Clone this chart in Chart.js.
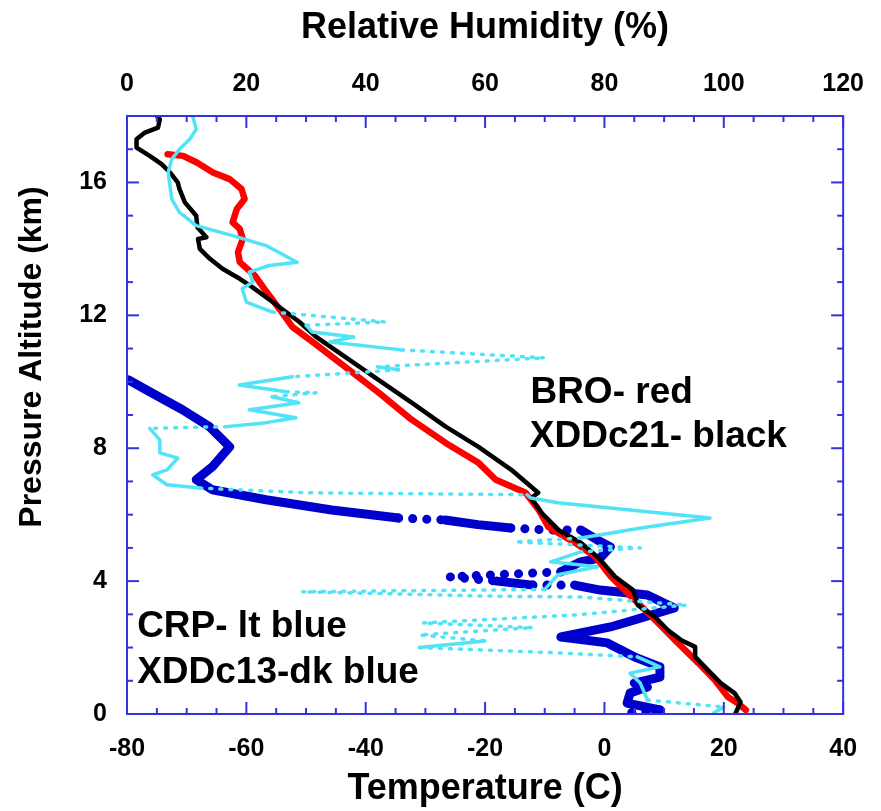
<!DOCTYPE html>
<html>
<head>
<meta charset="utf-8">
<script src="https://cdn.jsdelivr.net/npm/chart.js@4.4.1/dist/chart.umd.min.js"></script>
<style>
  html, body { margin: 0; padding: 0; background: #fff; }
  canvas { display: block; }
</style>
</head>
<body>
<canvas id="chart" width="881" height="811"></canvas>
<script>
const FONT = "'Liberation Sans', Arial, sans-serif";
const FRAME = "#3434dc";

// BRO sonde, temperature (red)
const broAlt = [16.85, 16.8, 16.6, 16.3, 16.1, 15.8, 15.5, 15.2, 14.8, 14.6, 14.3, 13.9, 13.6, 13.2, 12.7, 12.2, 11.65, 11.2, 9.67, 8.86, 8.16, 7.56, 7.05, 6.66, 6.14, 5.63, 5.15, 4.73, 4.13, 3.43, 2.83, 2.23, 1.54, 1.02, 0.51, 0.33, 0.12];
const broTemp = [-73.2, -70.6, -68.3, -65.6, -62.8, -60.8, -60.3, -61.6, -62.3, -61.1, -60.6, -61.4, -61.1, -58.6, -56.6, -54.5, -52.3, -48.9, -37.8, -32.3, -26.6, -21.1, -18.2, -13.2, -11.0, -9.4, -4.9, -1.5, 1.1, 5.1, 8.5, 11.8, 15.7, 18.5, 20.7, 22.3, 23.7];

// XDDc21, temperature (black)
const xdd21Alt = [18.0, 17.9, 17.65, 17.5, 17.3, 17.05, 16.8, 16.55, 16.3, 16.0, 15.8, 15.4, 15.0, 14.65, 14.35, 14.3, 14.0, 13.7, 13.4, 13.1, 12.85, 12.4, 11.8, 11.35, 10.05, 9.37, 8.65, 8.04, 7.35, 6.66, 6.5, 6.05, 5.54, 5.15, 4.7, 4.13, 3.73, 3.28, 2.92, 2.53, 2.23, 2.02, 1.72, 1.33, 0.93, 0.63, 0.36, 0.03];
const xdd21Temp = [-75.0, -74.5, -74.8, -77.0, -78.4, -78.4, -76.2, -74.2, -72.8, -71.5, -71.2, -70.3, -68.4, -68.2, -66.7, -68.1, -67.8, -66.1, -64.0, -61.1, -59.0, -55.6, -51.1, -48.3, -37.8, -32.3, -26.6, -21.1, -15.6, -11.1, -12.3, -10.5, -7.7, -3.9, -1.0, 1.8, 4.8, 5.6, 8.5, 10.6, 12.8, 15.2, 15.2, 17.3, 19.5, 21.8, 22.8, 22.0];

// CRP, relative humidity (light blue)
const crpAlt = [18.0, 17.6, 17.3, 17.0, 16.7, 16.3, 15.9, 15.5, 15.1, 14.7, 14.4, 14.1, 13.6, 13.5, 13.3, 13.0, 12.8, 12.4, 12.1, 11.8, 11.7, 11.5, 11.35, 11.2, 10.96, 10.72, 10.45, 10.36, 10.15, 9.9, 9.7, 9.67, 9.55, 9.37, 9.16, 8.92, 8.77, 8.65, 8.6, 8.25, 7.86, 7.7, 7.35, 7.2, 6.9, 6.8, 6.66, 6.6, 6.5, 6.36, 5.9, 5.63, 5.3, 5.18, 5.0, 4.88, 4.58, 4.43, 4.19, 3.75, 3.68, 3.55, 3.52, 3.28, 2.98, 2.74, 2.6, 2.38, 2.2, 2.0, 1.84, 1.72, 1.42, 1.23, 0.93, 0.42, 0.21, 0.03];
const crpRh = [11.0, 11.6, 10.5, 8.8, 7.5, 6.9, 7.2, 7.5, 8.8, 11.6, 17.7, 23.3, 28.5, 23.8, 20.5, 21.1, 19.3, 20.0, 24.4, 43.3, 30.0, 31.0, 38.0, 34.0, 46.0, 70.0, 42.0, 45.5, 27.7, 18.8, 26.7, 31.7, 24.3, 28.8, 20.5, 28.3, 23.3, 16.7, 3.8, 5.5, 5.5, 8.5, 6.7, 4.3, 6.7, 12.2, 30.0, 67.0, 67.7, 72.2, 97.7, 87.2, 76.0, 65.0, 86.0, 76.0, 71.0, 78.8, 72.2, 70.0, 29.3, 60.0, 76.0, 93.8, 75.0, 49.5, 68.0, 49.0, 60.0, 49.0, 72.2, 85.5, 89.3, 84.3, 86.0, 87.2, 100.0, 98.3];

// XDDc13, relative humidity (dark blue)
const xdd13Alt = [10.06, 9.7, 9.16, 8.65, 8.04, 7.44, 7.05, 6.75, 6.45, 6.14, 5.9, 5.84, 5.7, 5.6, 5.54, 5.54, 5.24, 5.03, 4.7, 4.58, 4.28, 4.13, 4.0, 3.88, 3.88, 3.73, 3.58, 3.19, 2.83, 2.62, 2.32, 2.14, 1.72, 1.42, 1.11, 0.93, 0.81, 0.63, 0.33, 0.12, 0.03];
const xdd13Rh = [0.2, 3.8, 9.3, 13.8, 17.2, 14.3, 11.6, 14.3, 23.3, 34.3, 45.5, 53.3, 58.8, 64.3, 70.0, 76.0, 78.8, 81.0, 79.3, 76.0, 72.7, 54.0, 62.0, 68.0, 75.0, 79.3, 87.2, 91.7, 85.0, 81.0, 72.7, 80.5, 85.0, 89.3, 89.3, 85.0, 87.2, 84.3, 83.8, 89.3, 83.8];

const tempTicks = [-80, -60, -40, -20, 0, 20, 40];
const rhTicks = [0, 20, 40, 60, 80, 100, 120];
const altTicks = [0, 4, 8, 12, 16];
const tempMinorStep = 5;
const rhMinorStep = 5;
const altMinorStep = 1;

// in-plot notes: text, temperature of left edge, altitude of baseline
const notes = [
  { text: "BRO- red", temp: -12.4, alt: 9.37 },
  { text: "XDDc21- black", temp: -12.5, alt: 8.04 },
  { text: "CRP- lt blue", temp: -78.3, alt: 2.32 },
  { text: "XDDc13-dk blue", temp: -78.3, alt: 0.93 },
];

const toPoints = (xs, ys) => xs.map((v, i) => ({ x: v, y: ys[i] }));

// flat jumps came out as sparse markers in the original, draw them dotted
function dotted(dash) {
  return (ctx) => {
    const dx = Math.abs(ctx.p1.x - ctx.p0.x);
    const dy = Math.abs(ctx.p1.y - ctx.p0.y);
    return dx > 25 && dy < dx * 0.1 ? dash : undefined;
  };
}

const framePlugin = {
  id: "frame",
  afterDatasetsDraw(chart) {
    const { ctx, chartArea: a, scales } = chart;
    ctx.save();
    ctx.strokeStyle = FRAME;
    ctx.lineWidth = 2;
    ctx.strokeRect(a.left, a.top, a.right - a.left, a.bottom - a.top);

    const tick = (x1, y1, x2, y2) => {
      ctx.beginPath();
      ctx.moveTo(x1, y1);
      ctx.lineTo(x2, y2);
      ctx.stroke();
    };
    // bottom (temperature) and top (RH) ticks
    for (let v = scales.x.min; v <= scales.x.max; v += tempMinorStep) {
      const px = scales.x.getPixelForValue(v);
      const len = tempTicks.includes(v) ? 12 : 6;
      tick(px, a.bottom, px, a.bottom - len);
    }
    for (let v = scales.x2.min; v <= scales.x2.max; v += rhMinorStep) {
      const px = scales.x2.getPixelForValue(v);
      const len = rhTicks.includes(v) ? 12 : 6;
      tick(px, a.top, px, a.top + len);
    }
    for (let v = scales.y.min; v <= scales.y.max; v += altMinorStep) {
      const py = scales.y.getPixelForValue(v);
      const len = altTicks.includes(v) ? 12 : 6;
      tick(a.left, py, a.left + len, py);
      tick(a.right, py, a.right - len, py);
    }

    ctx.fillStyle = "#000";
    ctx.font = "bold 37px " + FONT;
    ctx.textAlign = "left";
    ctx.textBaseline = "alphabetic";
    notes.forEach((n) => {
      ctx.fillText(n.text, scales.x.getPixelForValue(n.temp), scales.y.getPixelForValue(n.alt));
    });

    // left axis title, sits above the axis middle in the original
    ctx.translate(32, 357);
    ctx.rotate(-Math.PI / 2);
    ctx.textAlign = "center";
    ctx.textBaseline = "middle";
    ctx.font = "bold 32px " + FONT;
    ctx.fillText("Pressure Altitude (km)", 0, 0);
    ctx.restore();
  },
};

const tickFont = { family: FONT, size: 25, weight: "bold" };
const titleFont = { family: FONT, size: 36, weight: "bold" };

new Chart(document.getElementById("chart"), {
  type: "scatter",
  data: {
    datasets: [
      {
        label: "CRP",
        data: toPoints(crpRh, crpAlt),
        xAxisID: "x2",
        borderColor: "#52e3f7",
        borderWidth: 3.5,
        segment: { borderDash: dotted([2, 8]) },
        order: 1,
      },
      {
        label: "XDDc21",
        data: toPoints(xdd21Temp, xdd21Alt),
        xAxisID: "x",
        borderColor: "#000000",
        borderWidth: 4.5,
        order: 2,
      },
      {
        label: "BRO",
        data: toPoints(broTemp, broAlt),
        xAxisID: "x",
        borderColor: "#ff0000",
        borderWidth: 6.5,
        order: 3,
      },
      {
        label: "XDDc13",
        data: toPoints(xdd13Rh, xdd13Alt),
        xAxisID: "x2",
        borderColor: "#0000cc",
        borderWidth: 9,
        segment: { borderDash: dotted([0.1, 14]) },
        order: 4,
      },
    ].map((d) => ({
      ...d,
      showLine: true,
      pointRadius: 0,
      borderCapStyle: "round",
      borderJoinStyle: "round",
      yAxisID: "y",
    })),
  },
  options: {
    responsive: false,
    animation: false,
    events: [],
    layout: { padding: { left: 0, right: 35, top: 0, bottom: 0 } },
    plugins: { legend: { display: false }, tooltip: { enabled: false } },
    scales: {
      x: {
        type: "linear",
        position: "bottom",
        min: -80,
        max: 40,
        afterBuildTicks: (s) => { s.ticks = tempTicks.map((v) => ({ value: v })); },
        afterFit: (s) => { s.height = 97; },
        ticks: { font: tickFont, color: "#000", padding: 20, maxRotation: 0 },
        grid: { display: false, drawTicks: false },
        border: { display: false },
        title: { display: true, text: "Temperature (C)", font: titleFont, color: "#000", padding: { top: 0, bottom: 0 } },
      },
      x2: {
        type: "linear",
        position: "top",
        min: 0,
        max: 120,
        afterBuildTicks: (s) => { s.ticks = rhTicks.map((v) => ({ value: v })); },
        afterFit: (s) => { s.height = 116; },
        ticks: { font: tickFont, color: "#000", padding: 17, maxRotation: 0 },
        grid: { display: false, drawTicks: false },
        border: { display: false },
        title: { display: true, text: "Relative Humidity (%)", font: titleFont, color: "#000", padding: { top: 6, bottom: 0 } },
      },
      y: {
        type: "linear",
        position: "left",
        min: 0,
        max: 18,
        afterBuildTicks: (s) => { s.ticks = altTicks.map((v) => ({ value: v })); },
        afterFit: (s) => { s.width = 127; },
        ticks: { font: tickFont, color: "#000", padding: 20 },
        grid: { display: false, drawTicks: false },
        border: { display: false },
      },
    },
  },
  plugins: [framePlugin],
});
</script>
</body>
</html>
